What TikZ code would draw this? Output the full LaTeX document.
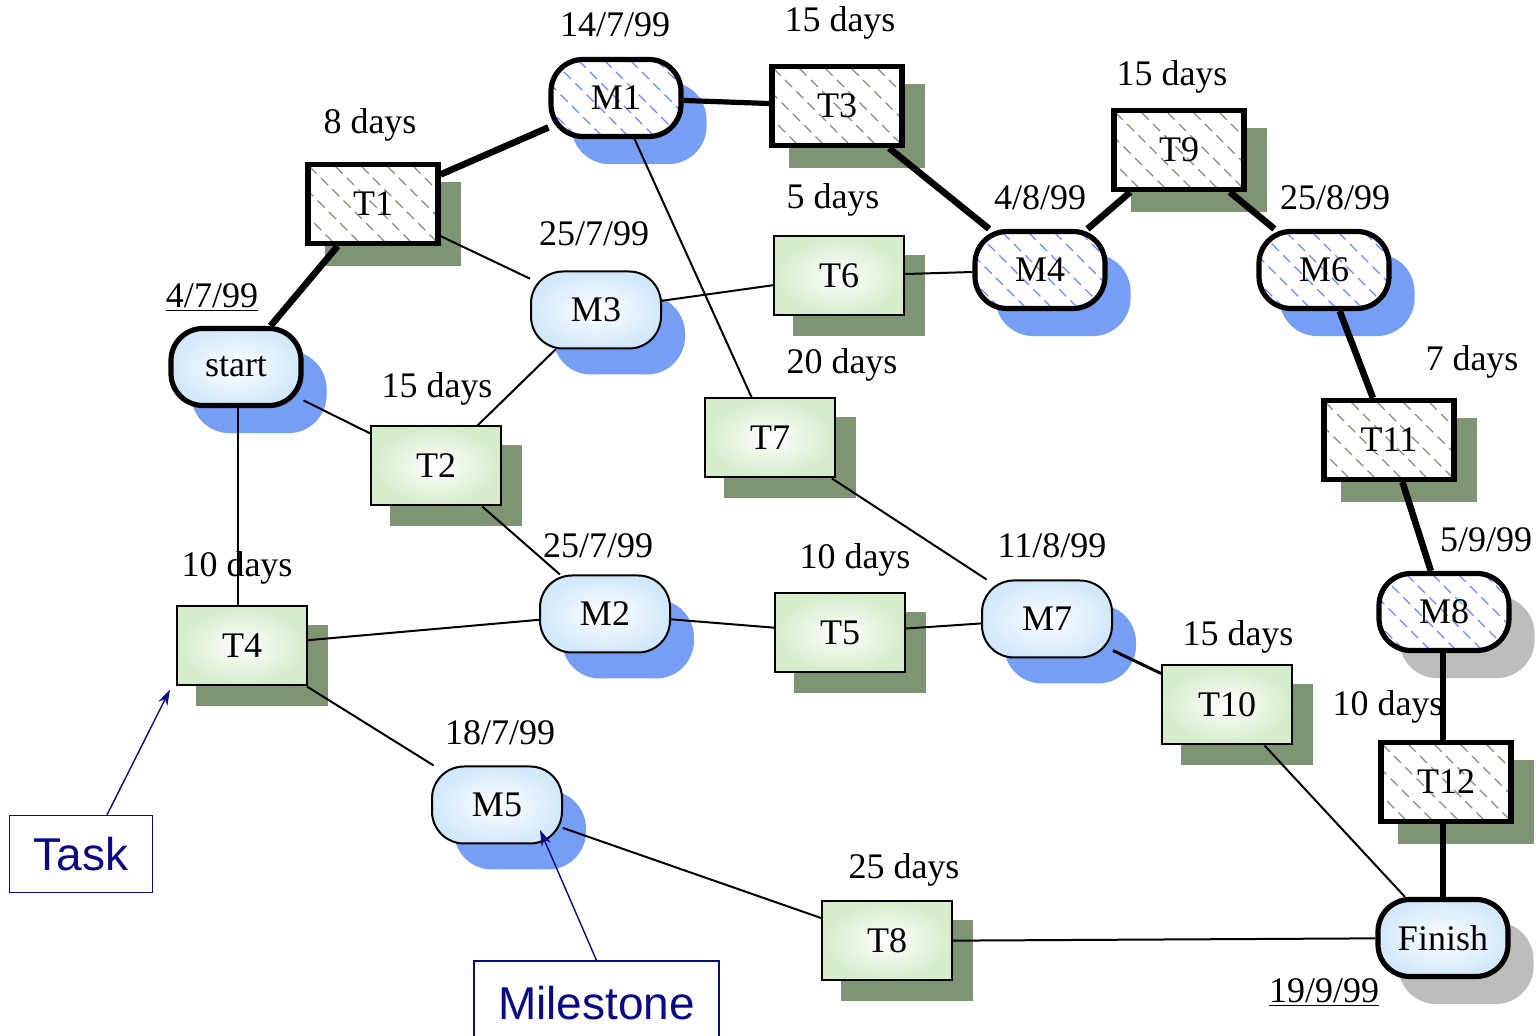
\documentclass[tikz,border=0pt]{standalone}
\usepackage{fontspec}
\setmainfont{Liberation Serif}
\newfontfamily\helv{Liberation Sans}
\usetikzlibrary{arrows.meta,calc}
\definecolor{taskfill}{HTML}{D6ECCB}
\definecolor{msfill}{HTML}{D2E8FB}
\definecolor{tshadow}{HTML}{7F9473}
\definecolor{bshadow}{HTML}{779EF5}
\definecolor{gshadow}{HTML}{BDBDBD}
\definecolor{thatch}{HTML}{7A9470}
\definecolor{mhatch}{HTML}{6A8CF2}
\definecolor{navyc}{HTML}{0A0A85}
\pgfdeclarelayer{bgl}
\pgfdeclarelayer{shadowl}
\pgfdeclarelayer{edgel}
\pgfsetlayers{bgl,shadowl,edgel,main}
\newcommand{\hatchpic}[1]{\foreach \k in {-5,...,5}{\draw[#1, line width=0.55pt, dash pattern=on 5pt off 3pt] ([xshift=\k*13pt-30pt, yshift=30pt]path picture bounding box.center) -- ++(60pt,-60pt);}}
\newcommand{\tshad}[1]{\fill[tshadow] ([shift={(20,20)}]#1.south west) rectangle ([shift={(20,20)}]#1.north east);}
\newcommand{\mshad}[2]{\fill[#2, rounded corners=19pt] ([shift={(23,25)}]#1.south west) rectangle ([shift={(23,25)}]#1.north east);}
\tikzset{
  txt/.style={font=\fontsize{18}{20}\selectfont},
  task/.style={txt, draw, line width=1pt, minimum width=65pt, minimum height=39.5pt, inner sep=0pt, shading=radial, inner color=white, outer color=taskfill},
  ctask/.style={txt, draw, line width=2.6pt, minimum width=65pt, minimum height=39.5pt, inner sep=0pt, fill=white, path picture={\hatchpic{thatch}}},
  ms/.style={txt, draw, line width=1pt, rounded corners=16pt, minimum width=65pt, minimum height=38.5pt, inner sep=0pt, shading=radial, inner color=white, outer color=msfill},
  sms/.style={ms, line width=2.6pt},
  cms/.style={txt, draw, line width=2.6pt, rounded corners=16pt, minimum width=65pt, minimum height=38.5pt, inner sep=0pt, fill=white, path picture={\hatchpic{mhatch}}},
  lbl/.style={txt, inner sep=1pt},
  edg/.style={line width=1pt},
  cedge/.style={line width=3.3pt},
  legend/.style={draw=navyc, line width=0.6pt, text=navyc, font=\helv\fontsize{23}{26}\selectfont, inner sep=0pt},
  larrow/.style={draw=navyc, line width=0.7pt, -{Stealth[length=8pt,width=5pt]}}
}
\begin{document}
\begin{tikzpicture}[x=0.5pt,y=-0.5pt]
\begin{pgfonlayer}{bgl}
\fill[white] (0,0) rectangle (1539,1036);
\end{pgfonlayer}
\useasboundingbox (0,0) rectangle (1539,1036);
% milestones
\node[sms] (start)  at (236,367) {start};
\node[cms] (M1)     at (616,98)  {M1};
\node[ms]  (M3)     at (596,310) {M3};
\node[cms] (M4)     at (1040,270) {M4};
\node[cms] (M6)     at (1324,270) {M6};
\node[ms]  (M2)     at (605,614) {M2};
\node[ms]  (M7)     at (1047,619) {M7};
\node[ms]  (M5)     at (497,805) {M5};
\node[cms] (M8)     at (1444,612) {M8};
\node[sms] (Finish) at (1443,938) {Finish};
% tasks
\node[ctask] (T1)  at (373,204)  {T1};
\node[ctask] (T3)  at (837,106)  {T3};
\node[ctask] (T9)  at (1179,150) {T9};
\node[ctask] (T11) at (1389,440) {T11};
\node[ctask] (T12) at (1446,782) {T12};
\node[task]  (T6)  at (839,276)  {T6};
\node[task]  (T2)  at (436,466)  {T2};
\node[task]  (T7)  at (770,438)  {T7};
\node[task]  (T5)  at (840,633)  {T5};
\node[task]  (T10) at (1227,705) {T10};
\node[task]  (T4)  at (242,646)  {T4};
\node[task]  (T8)  at (887,941)  {T8};
% shadows
\begin{pgfonlayer}{shadowl}
\mshad{start}{bshadow}\mshad{M1}{bshadow}\mshad{M3}{bshadow}\mshad{M4}{bshadow}
\mshad{M6}{bshadow}\mshad{M2}{bshadow}\mshad{M7}{bshadow}\mshad{M5}{bshadow}
\mshad{M8}{gshadow}\mshad{Finish}{gshadow}
\tshad{T1}\tshad{T3}\tshad{T9}\tshad{T11}\tshad{T12}\tshad{T6}\tshad{T2}
\tshad{T7}\tshad{T5}\tshad{T10}\tshad{T4}\tshad{T8}
\end{pgfonlayer}
% connectors
\begin{pgfonlayer}{edgel}
\draw[cedge] (start) -- (T1);
\draw[cedge] (T1) -- (M1);
\draw[line width=2.6pt] (M1) -- (T3);
\draw[cedge] (T3) -- (M4);
\draw[cedge] (M4) -- (T9);
\draw[cedge] (T9) -- (M6);
\draw[cedge] (M6) -- (T11);
\draw[cedge] (T11) -- (M8);
\draw[cedge] ([xshift=-0.5pt]M8.south) -- ([xshift=-1.5pt]T12.north);
\draw[cedge] ([xshift=-1.5pt]T12.south) -- (Finish.north);
\draw[edg] (T1) -- (M3);
\draw[edg] (M1) -- (T7);
\draw[edg] (M3) -- (T6);
\draw[edg] (T6) -- (M4);
\draw[edg] (M3) -- (T2);
\draw[edg] (start) -- (T2);
\draw[edg] ([xshift=1pt]start.south) -- ([xshift=-2pt]T4.north);
\draw[edg] (T2) -- (M2);
\draw[edg] (T4) -- (M2);
\draw[edg] (M2) -- (T5);
\draw[edg] (T5) -- (M7);
\draw[edg] (T7) -- (M7);
\draw[line width=1.5pt] (M7) -- (T10);
\draw[edg] (T10) -- (Finish);
\draw[edg] (T4) -- (M5);
\draw[edg] (M5) -- (T8);
\draw[edg] (T8) -- (Finish);
\end{pgfonlayer}
% labels
\node[lbl] (d1)  at (615,25)   {14/7/99};
\node[lbl] (d2)  at (840,23)   {15 days};
\node[lbl] (d3)  at (370,125)  {8 days};
\node[lbl] (d4)  at (1172,77)  {15 days};
\node[lbl] (d5)  at (212,298)  {\underline{4/7/99}};
\node[lbl] (d6)  at (594,234)  {25/7/99};
\node[lbl] (d7)  at (833,200)  {5 days};
\node[lbl] (d8)  at (1040,198) {4/8/99};
\node[lbl] (d9)  at (1335,198) {25/8/99};
\node[lbl] (d10) at (842,365)  {20 days};
\node[lbl] (d11) at (437,389)  {15 days};
\node[lbl] (d12) at (1472,362) {7 days};
\node[lbl] (d13) at (1486,540) {5/9/99};
\node[lbl] (d14) at (598,546)  {25/7/99};
\node[lbl] (d15) at (855,560)  {10 days};
\node[lbl] (d16) at (1052,546) {11/8/99};
\node[lbl] (d17) at (237,568)  {10 days};
\node[lbl] (d18) at (1238,637) {15 days};
\node[lbl] (d19) at (1388,707) {10 days};
\node[lbl] (d20) at (500,733)  {18/7/99};
\node[lbl] (d21) at (904,870)  {25 days};
\node[lbl] (d22) at (1324,993) {\underline{19/9/99}};
% legend
\node[legend, minimum width=71.5pt, minimum height=38.5pt] (tasklbl) at (81,854) {Task};
\node[legend, minimum width=122.5pt, minimum height=42pt] (mslbl) at (596.5,1003) {Milestone};
\coordinate (m5tip) at (540,830);
\draw[larrow] ([xshift=13pt]tasklbl.north) -- ([shift={(-6,3)}]T4.south west);
\draw[larrow] (mslbl.north) -- (m5tip);
\end{tikzpicture}
\end{document}
